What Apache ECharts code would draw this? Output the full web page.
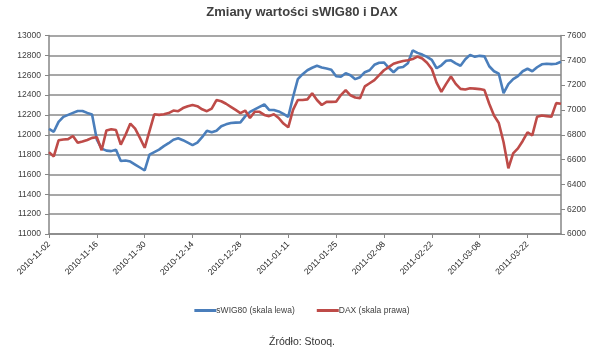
<!DOCTYPE html>
<html><head><meta charset="utf-8">
<script src="https://cdn.jsdelivr.net/npm/echarts@6/dist/echarts.min.js"></script>
<style>html,body{margin:0;padding:0;background:#fff}#c{width:604px;height:353px}</style>
</head><body><div id="c"></div>
<script>
var dates = ["2010-11-02","2010-11-03","2010-11-04","2010-11-05","2010-11-08","2010-11-09","2010-11-10","2010-11-11","2010-11-12","2010-11-15",
"2010-11-16","2010-11-17","2010-11-18","2010-11-19","2010-11-22","2010-11-23","2010-11-24","2010-11-25","2010-11-26","2010-11-29",
"2010-11-30","2010-12-01","2010-12-02","2010-12-03","2010-12-06","2010-12-07","2010-12-08","2010-12-09","2010-12-10","2010-12-13",
"2010-12-14","2010-12-15","2010-12-16","2010-12-17","2010-12-20","2010-12-21","2010-12-22","2010-12-23","2010-12-24","2010-12-27",
"2010-12-28","2010-12-29","2010-12-30","2010-12-31","2011-01-03","2011-01-04","2011-01-05","2011-01-06","2011-01-07","2011-01-10",
"2011-01-11","2011-01-12","2011-01-13","2011-01-14","2011-01-17","2011-01-18","2011-01-19","2011-01-20","2011-01-21","2011-01-24",
"2011-01-25","2011-01-26","2011-01-27","2011-01-28","2011-01-31","2011-02-01","2011-02-02","2011-02-03","2011-02-04","2011-02-07",
"2011-02-08","2011-02-09","2011-02-10","2011-02-11","2011-02-14","2011-02-15","2011-02-16","2011-02-17","2011-02-18","2011-02-21",
"2011-02-22","2011-02-23","2011-02-24","2011-02-25","2011-02-28","2011-03-01","2011-03-02","2011-03-03","2011-03-04","2011-03-07",
"2011-03-08","2011-03-09","2011-03-10","2011-03-11","2011-03-14","2011-03-15","2011-03-16","2011-03-17","2011-03-18","2011-03-21",
"2011-03-22","2011-03-23","2011-03-24","2011-03-25","2011-03-28","2011-03-29","2011-03-30","2011-03-31"];

var swig80 = [12060,12030,12130,12180,12200,12220,12240,12240,12220,12205,
11950,11860,11840,11835,11850,11735,11740,11730,11700,11670,
11640,11800,11825,11850,11885,11915,11950,11965,11945,11920,
11895,11920,11975,12040,12025,12040,12085,12105,12118,12122,
12125,12185,12230,12255,12280,12305,12250,12250,12235,12210,
12180,12380,12560,12610,12650,12675,12695,12678,12668,12655,
12590,12585,12620,12600,12560,12580,12630,12650,12705,12725,
12728,12675,12630,12675,12682,12720,12850,12825,12808,12785,
12755,12670,12700,12745,12750,12720,12695,12760,12805,12785,
12795,12790,12690,12640,12615,12420,12510,12560,12590,12640,
12665,12640,12680,12710,12715,12712,12715,12735];

var dax = [6660,6625,6755,6762,6765,6790,6735,6745,6758,6775,
6780,6675,6835,6845,6838,6720,6800,6890,6850,6775,
6695,6830,6965,6960,6965,6975,6995,6990,7015,7030,
7040,7030,7005,6990,7010,7080,7070,7050,7025,7000,
6975,6995,6935,6985,6985,6960,6950,6965,6935,6890,
6860,7000,7080,7080,7085,7135,7080,7040,7065,7065,
7066,7120,7160,7118,7100,7095,7190,7215,7240,7280,
7320,7345,7372,7385,7395,7400,7410,7430,7415,7380,
7330,7220,7145,7210,7270,7210,7170,7165,7175,7172,
7168,7160,7050,6955,6895,6740,6530,6650,6690,6750,
6820,6795,6945,6955,6950,6945,7055,7050];

var leftTicks = {min: 11000, max: 13000, step: 200};
var rightTicks = {min: 6000, max: 7600, step: 200};
var seriesNames = ["sWIG80 (skala lewa)", "DAX (skala prawa)"];

var chart = echarts.init(document.getElementById('c'), null, {renderer: 'canvas'});
var font = 'Liberation Sans, Arial, sans-serif';
var plain = function (v) { return String(v); };
chart.setOption({
  animation: false,
  backgroundColor: '#ffffff',
  title: [
    {text: 'Zmiany wartości sWIG80 i DAX', left: 'center', top: 1,
     textStyle: {fontFamily: font, fontSize: 13, fontWeight: 'bold', color: '#404040'}},
    {text: 'Źródło: Stooq.', left: 'center', top: 332,
     textStyle: {fontFamily: font, fontSize: 10.5, fontWeight: 'normal', color: '#333333'}}
  ],
  legend: {
    top: 301, left: 'center', itemGap: 22, itemWidth: 22, itemHeight: 3,
    icon: 'rect',
    textStyle: {fontFamily: font, fontSize: 8.5, color: '#404040', padding: [0,0,0,-5]},
    data: seriesNames
  },
  grid: {left: 49, right: 43, top: 35.5, bottom: 119, containLabel: false},
  xAxis: {
    type: 'category', data: dates, boundaryGap: false,
    axisLine: {lineStyle: {color: '#868686', width: 1.5}},
    axisTick: {show: true, interval: 9, length: 4, lineStyle: {color: '#868686'}},
    axisLabel: {interval: 9, rotate: 45, fontFamily: font, fontSize: 8.5, color: '#222222', margin: 9},
    splitLine: {show: false}
  },
  yAxis: [
    {type: 'value', min: leftTicks.min, max: leftTicks.max, interval: leftTicks.step,
     axisLine: {show: true, lineStyle: {color: '#868686', width: 1.5}},
     axisTick: {show: true, length: 4, lineStyle: {color: '#868686'}},
     axisLabel: {formatter: plain, fontFamily: font, fontSize: 8.5, color: '#404040', margin: 8},
     splitLine: {show: true, lineStyle: {color: '#8a8a8a', width: 1.5}}},
    {type: 'value', min: rightTicks.min, max: rightTicks.max, interval: rightTicks.step, position: 'right',
     axisLine: {show: true, lineStyle: {color: '#868686', width: 1.5}},
     axisTick: {show: true, length: 4, lineStyle: {color: '#868686'}},
     axisLabel: {formatter: plain, fontFamily: font, fontSize: 8.5, color: '#404040', margin: 6},
     splitLine: {show: false}}
  ],
  series: [
    {name: seriesNames[0], type: 'line', yAxisIndex: 0, data: swig80, showSymbol: false, symbol: 'none',
     lineStyle: {color: '#4A7EBB', width: 2.6}, itemStyle: {color: '#4A7EBB'}},
    {name: seriesNames[1], type: 'line', yAxisIndex: 1, data: dax, showSymbol: false, symbol: 'none',
     lineStyle: {color: '#BE4B48', width: 2.6}, itemStyle: {color: '#BE4B48'}}
  ]
});
</script></body></html>
